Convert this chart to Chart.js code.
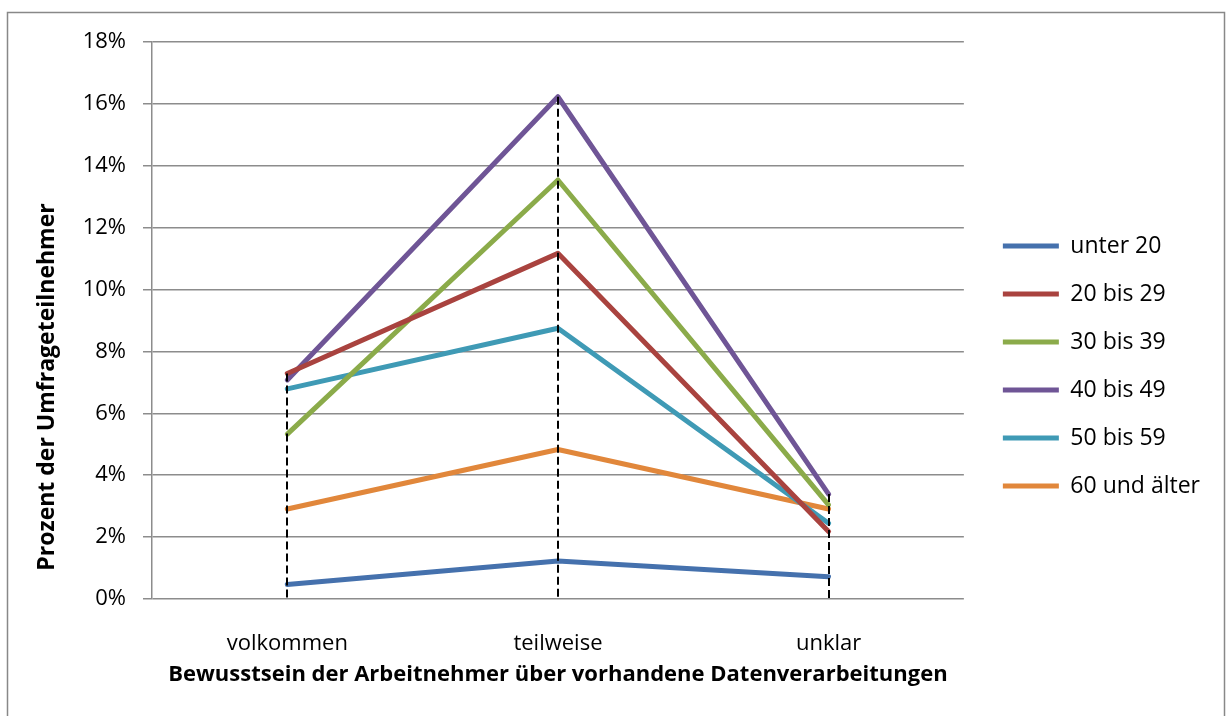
<!DOCTYPE html>
<html lang="de">
<head>
<meta charset="utf-8">
<title>Bewusstsein der Arbeitnehmer</title>
<script src="https://cdn.jsdelivr.net/npm/chart.js@4.4.1/dist/chart.umd.min.js"></script>
<style>
  html, body { margin: 0; padding: 0; background: #ffffff; }
  canvas { display: block; }
</style>
</head>
<body>
<canvas id="chart" width="1228" height="716"></canvas>
<script>
// Kategorien der x-Achse
const categories = ['volkommen', 'teilweise', 'unklar'];

// Altersgruppen (Legende)
const seriesNames = ['unter 20', '20 bis 29', '30 bis 39', '40 bis 49', '50 bis 59', '60 und älter'];

// Anteile in Prozent je Altersgruppe
const unter20 = [0.47, 1.23, 0.72];
const bis29   = [7.29, 11.17, 2.18];
const bis39   = [5.33, 13.54, 3.04];
const bis49   = [7.08, 16.23, 3.39];
const bis59   = [6.79, 8.75, 2.45];
const ab60    = [2.91, 4.83, 2.91];

// Beschriftung der y-Achse
const yTickValues = [0, 2, 4, 6, 8, 10, 12, 14, 16, 18];

const seriesValues = [unter20, bis29, bis39, bis49, bis59, ab60];
const seriesColors = ['#4571AD', '#A9433F', '#8BAB4A', '#6F5596', '#3F9AB5', '#E1873B'];

const FONT = '"Open Sans", "DejaVu Sans", sans-serif';
const GRID = '#8C8C8C';

// Rahmen um das gesamte Diagramm
const frame = {
  id: 'frame',
  beforeDraw(chart) {
    const ctx = chart.ctx;
    ctx.save();
    ctx.strokeStyle = '#888888';
    ctx.lineWidth = 1.5;
    ctx.strokeRect(7.5, 12.5, 1217, 720);
    ctx.restore();
  }
};

// Gestrichelte Lotlinien vom höchsten Wert jeder Kategorie bis zur Nulllinie
const dropLines = {
  id: 'dropLines',
  afterDatasetsDraw(chart) {
    const {ctx, scales: {x, y}} = chart;
    ctx.save();
    ctx.strokeStyle = '#000000';
    ctx.lineWidth = 2;
    ctx.setLineDash([8, 4]);
    categories.forEach((c, i) => {
      const top = Math.max(...seriesValues.map(s => s[i]));
      const px = Math.round(x.getPixelForValue(i));
      ctx.beginPath();
      ctx.moveTo(px, y.getPixelForValue(top));
      ctx.lineTo(px, y.getPixelForValue(0));
      ctx.stroke();
    });
    ctx.restore();
  }
};

// Titel der y-Achse
const yTitle = {
  id: 'yTitle',
  afterDraw(chart) {
    const ctx = chart.ctx;
    ctx.save();
    ctx.translate(47, 387);
    ctx.rotate(-Math.PI / 2);
    ctx.font = 'bold 23px ' + FONT;
    ctx.fillStyle = '#000000';
    ctx.textAlign = 'center';
    ctx.textBaseline = 'middle';
    ctx.fillText('Prozent der Umfrageteilnehmer', 0, 0);
    ctx.restore();
  }
};

function drawChart() {
  new Chart(document.getElementById('chart'), {
    type: 'line',
    data: {
      labels: categories,
      datasets: seriesNames.map((name, i) => ({
        label: name,
        data: seriesValues[i],
        borderColor: seriesColors[i],
        backgroundColor: seriesColors[i],
        borderWidth: 5,
        borderCapStyle: 'round',
        borderJoinStyle: 'round',
        pointRadius: 0,
        pointHoverRadius: 0,
        tension: 0,
        fill: false
      }))
    },
    options: {
      responsive: false,
      animation: false,
      devicePixelRatio: 1,
      layout: { padding: { left: 0, top: 42, right: 18, bottom: 26 } },
      scales: {
        x: {
          offset: true,
          grid: { display: false },
          border: { display: false },
          ticks: { color: '#000000', padding: 24, font: { family: FONT, size: 22 } },
          title: {
            display: true,
            text: 'Bewusstsein der Arbeitnehmer über vorhandene Datenverarbeitungen',
            color: '#000000',
            font: { family: FONT, size: 22, weight: 'bold' },
            padding: { top: 0, bottom: 2 }
          },
          afterFit(scale) { scale.height = 91; }
        },
        y: {
          min: 0,
          max: 18,
          afterBuildTicks(scale) { scale.ticks = yTickValues.map(v => ({ value: v })); },
          ticks: {
            color: '#000000',
            padding: 17,
            font: { family: FONT, size: 22 },
            callback: v => v + '%'
          },
          grid: { color: GRID, lineWidth: 1.5, tickLength: 9, drawTicks: true },
          border: { color: GRID, width: 1.5 },
          afterFit(scale) { scale.width = 152; }
        },
        gap: {
          type: 'linear',
          position: 'right',
          grid: { display: false, drawTicks: false },
          border: { display: false },
          ticks: { display: false },
          afterFit(scale) { scale.width = 14; }
        }
      },
      plugins: {
        legend: {
          position: 'right',
          align: 'center',
          maxWidth: 300,
          labels: {
            usePointStyle: true,
            pointStyle: 'line',
            pointStyleWidth: 56,
            boxWidth: 56,
            padding: 25,
            color: '#000000',
            font: { family: FONT, size: 23 }
          }
        },
        tooltip: { enabled: false }
      }
    },
    plugins: [frame, dropLines, yTitle]
  });
}

// Schriften vor dem Messen der Texte laden
if (document.fonts && document.fonts.load) {
  Promise.all([
    document.fonts.load('22px "Open Sans"'),
    document.fonts.load('bold 22px "Open Sans"')
  ]).then(drawChart, drawChart);
} else {
  drawChart();
}
</script>
</body>
</html>
